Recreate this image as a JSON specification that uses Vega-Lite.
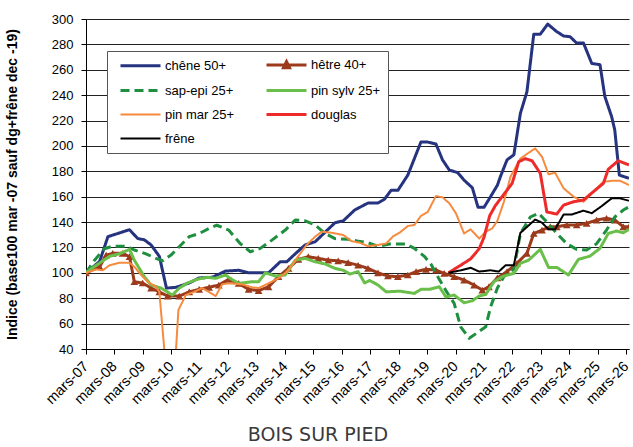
{
 "$schema": "https://vega.github.io/schema/vega-lite/v6.json",
 "autosize": "none",
 "width": 543, "height": 330,
 "padding": {"left": 86, "top": 19, "right": 4, "bottom": 98},
 "background": "white",
 "config": {"view": {"stroke": null}, "font": "Liberation Sans"},
 "title": {"text": "BOIS SUR PIED", "orient": "bottom", "anchor": "middle", "frame": "bounds", "font": "DejaVu Sans", "fontSize": 19, "fontWeight": "normal", "color": "#3a3a3a", "offset": 20},
 "data": {"values": [
  {"s":"chêne 50+","t":2007.0,"v":100},{"s":"chêne 50+","t":2007.48,"v":109},{"s":"chêne 50+","t":2007.77,"v":128.5},{"s":"chêne 50+","t":2008.53,"v":134},{"s":"chêne 50+","t":2008.82,"v":127},{"s":"chêne 50+","t":2009.05,"v":126},{"s":"chêne 50+","t":2009.29,"v":122},{"s":"chêne 50+","t":2009.58,"v":113},{"s":"chêne 50+","t":2009.83,"v":88},{"s":"chêne 50+","t":2010.16,"v":88.6},{"s":"chêne 50+","t":2010.63,"v":92},{"s":"chêne 50+","t":2010.98,"v":96},{"s":"chêne 50+","t":2011.44,"v":96.5},{"s":"chêne 50+","t":2011.91,"v":101.4},{"s":"chêne 50+","t":2012.37,"v":102},{"s":"chêne 50+","t":2012.72,"v":100},{"s":"chêne 50+","t":2013.42,"v":100},{"s":"chêne 50+","t":2013.83,"v":108.7},{"s":"chêne 50+","t":2014.06,"v":108.7},{"s":"chêne 50+","t":2014.36,"v":115},{"s":"chêne 50+","t":2014.71,"v":122},{"s":"chêne 50+","t":2015.06,"v":124.5},{"s":"chêne 50+","t":2015.41,"v":132},{"s":"chêne 50+","t":2015.76,"v":139.5},{"s":"chêne 50+","t":2016.05,"v":141},{"s":"chêne 50+","t":2016.45,"v":149.5},{"s":"chêne 50+","t":2016.92,"v":155},{"s":"chêne 50+","t":2017.27,"v":155},{"s":"chêne 50+","t":2017.5,"v":158},{"s":"chêne 50+","t":2017.73,"v":165},{"s":"chêne 50+","t":2017.97,"v":165},{"s":"chêne 50+","t":2018.32,"v":177},{"s":"chêne 50+","t":2018.55,"v":190},{"s":"chêne 50+","t":2018.78,"v":203},{"s":"chêne 50+","t":2019.02,"v":203},{"s":"chêne 50+","t":2019.31,"v":201.5},{"s":"chêne 50+","t":2019.54,"v":189},{"s":"chêne 50+","t":2019.78,"v":181},{"s":"chêne 50+","t":2020.07,"v":179},{"s":"chêne 50+","t":2020.3,"v":173},{"s":"chêne 50+","t":2020.59,"v":167},{"s":"chêne 50+","t":2020.79,"v":151.6},{"s":"chêne 50+","t":2021.0,"v":151.6},{"s":"chêne 50+","t":2021.23,"v":160},{"s":"chêne 50+","t":2021.47,"v":169},{"s":"chêne 50+","t":2021.58,"v":176},{"s":"chêne 50+","t":2021.81,"v":189},{"s":"chêne 50+","t":2022.05,"v":193},{"s":"chêne 50+","t":2022.28,"v":225.7},{"s":"chêne 50+","t":2022.51,"v":242.7},{"s":"chêne 50+","t":2022.75,"v":288},{"s":"chêne 50+","t":2022.98,"v":288},{"s":"chêne 50+","t":2023.24,"v":296},{"s":"chêne 50+","t":2023.56,"v":290},{"s":"chêne 50+","t":2023.8,"v":286.6},{"s":"chêne 50+","t":2024.03,"v":286},{"s":"chêne 50+","t":2024.26,"v":281},{"s":"chêne 50+","t":2024.5,"v":281},{"s":"chêne 50+","t":2024.79,"v":265},{"s":"chêne 50+","t":2025.08,"v":264},{"s":"chêne 50+","t":2025.25,"v":239},{"s":"chêne 50+","t":2025.49,"v":223},{"s":"chêne 50+","t":2025.6,"v":212.5},{"s":"chêne 50+","t":2025.76,"v":177},{"s":"chêne 50+","t":2026.1,"v":174.5},

  {"s":"hêtre 40+","t":2007.0,"v":100},{"s":"hêtre 40+","t":2007.48,"v":104.8},{"s":"hêtre 40+","t":2007.71,"v":114},{"s":"hêtre 40+","t":2007.94,"v":115.4},{"s":"hêtre 40+","t":2008.29,"v":115.4},{"s":"hêtre 40+","t":2008.53,"v":112.7},{"s":"hêtre 40+","t":2008.7,"v":93},{"s":"hêtre 40+","t":2008.99,"v":92},{"s":"hêtre 40+","t":2009.29,"v":88},{"s":"hêtre 40+","t":2009.58,"v":85},{"s":"hêtre 40+","t":2009.87,"v":81.7},{"s":"hêtre 40+","t":2010.28,"v":81.7},{"s":"hêtre 40+","t":2010.63,"v":85},{"s":"hêtre 40+","t":2010.98,"v":87},{"s":"hêtre 40+","t":2011.33,"v":88.6},{"s":"hêtre 40+","t":2011.67,"v":90.4},{"s":"hêtre 40+","t":2012.02,"v":94.8},{"s":"hêtre 40+","t":2012.37,"v":91.7},{"s":"hêtre 40+","t":2012.72,"v":87},{"s":"hêtre 40+","t":2013.07,"v":86},{"s":"hêtre 40+","t":2013.42,"v":89},{"s":"hêtre 40+","t":2013.77,"v":97},{"s":"hêtre 40+","t":2014.12,"v":103.5},{"s":"hêtre 40+","t":2014.47,"v":110.6},{"s":"hêtre 40+","t":2014.82,"v":112.7},{"s":"hêtre 40+","t":2015.17,"v":111.4},{"s":"hêtre 40+","t":2015.52,"v":110},{"s":"hêtre 40+","t":2015.87,"v":109.5},{"s":"hêtre 40+","t":2016.22,"v":108},{"s":"hêtre 40+","t":2016.57,"v":106},{"s":"hêtre 40+","t":2016.92,"v":103.5},{"s":"hêtre 40+","t":2017.27,"v":100},{"s":"hêtre 40+","t":2017.62,"v":97.5},{"s":"hêtre 40+","t":2017.97,"v":97},{"s":"hêtre 40+","t":2018.32,"v":98.3},{"s":"hêtre 40+","t":2018.61,"v":101},{"s":"hêtre 40+","t":2018.96,"v":102.8},{"s":"hêtre 40+","t":2019.31,"v":102.2},{"s":"hêtre 40+","t":2019.6,"v":99.6},{"s":"hêtre 40+","t":2019.95,"v":97},{"s":"hêtre 40+","t":2020.3,"v":94.3},{"s":"hêtre 40+","t":2020.65,"v":90.4},{"s":"hêtre 40+","t":2020.94,"v":86.4},{"s":"hêtre 40+","t":2021.17,"v":89},{"s":"hêtre 40+","t":2021.47,"v":96},{"s":"hêtre 40+","t":2021.81,"v":101},{"s":"hêtre 40+","t":2022.16,"v":107.5},{"s":"hêtre 40+","t":2022.51,"v":115.4},{"s":"hêtre 40+","t":2022.75,"v":131},{"s":"hêtre 40+","t":2023.04,"v":133.7},{"s":"hêtre 40+","t":2023.33,"v":136.3},{"s":"hêtre 40+","t":2023.56,"v":136.3},{"s":"hêtre 40+","t":2023.91,"v":137.7},{"s":"hêtre 40+","t":2024.26,"v":137.7},{"s":"hêtre 40+","t":2024.61,"v":139},{"s":"hêtre 40+","t":2024.96,"v":141.6},{"s":"hêtre 40+","t":2025.31,"v":143},{"s":"hêtre 40+","t":2025.6,"v":141.6},{"s":"hêtre 40+","t":2025.9,"v":136.3},{"s":"hêtre 40+","t":2026.1,"v":136.3},

  {"s":"sap-epi 25+","t":2007.0,"v":100},{"s":"sap-epi 25+","t":2007.3,"v":110},{"s":"sap-epi 25+","t":2007.65,"v":119},{"s":"sap-epi 25+","t":2007.94,"v":121},{"s":"sap-epi 25+","t":2008.41,"v":121},{"s":"sap-epi 25+","t":2008.7,"v":118},{"s":"sap-epi 25+","t":2009.11,"v":115},{"s":"sap-epi 25+","t":2009.46,"v":111.4},{"s":"sap-epi 25+","t":2009.69,"v":109.5},{"s":"sap-epi 25+","t":2009.99,"v":114},{"s":"sap-epi 25+","t":2010.28,"v":120.6},{"s":"sap-epi 25+","t":2010.63,"v":128.5},{"s":"sap-epi 25+","t":2010.98,"v":131},{"s":"sap-epi 25+","t":2011.33,"v":135},{"s":"sap-epi 25+","t":2011.6,"v":137.5},{"s":"sap-epi 25+","t":2012.02,"v":133.7},{"s":"sap-epi 25+","t":2012.43,"v":123},{"s":"sap-epi 25+","t":2012.78,"v":116.6},{"s":"sap-epi 25+","t":2013.13,"v":119.3},{"s":"sap-epi 25+","t":2013.54,"v":125.8},{"s":"sap-epi 25+","t":2014.01,"v":133.7},{"s":"sap-epi 25+","t":2014.36,"v":141.6},{"s":"sap-epi 25+","t":2014.71,"v":141},{"s":"sap-epi 25+","t":2015.06,"v":137.7},{"s":"sap-epi 25+","t":2015.41,"v":131},{"s":"sap-epi 25+","t":2015.76,"v":127},{"s":"sap-epi 25+","t":2016.22,"v":126.4},{"s":"sap-epi 25+","t":2016.57,"v":125},{"s":"sap-epi 25+","t":2016.92,"v":123.7},{"s":"sap-epi 25+","t":2017.27,"v":121},{"s":"sap-epi 25+","t":2017.68,"v":122.7},{"s":"sap-epi 25+","t":2018.26,"v":122.7},{"s":"sap-epi 25+","t":2018.55,"v":119.3},{"s":"sap-epi 25+","t":2018.9,"v":113},{"s":"sap-epi 25+","t":2019.13,"v":107},{"s":"sap-epi 25+","t":2019.4,"v":96},{"s":"sap-epi 25+","t":2019.66,"v":86},{"s":"sap-epi 25+","t":2019.95,"v":76},{"s":"sap-epi 25+","t":2020.18,"v":57.5},{"s":"sap-epi 25+","t":2020.48,"v":48.4},{"s":"sap-epi 25+","t":2021.06,"v":57.5},{"s":"sap-epi 25+","t":2021.23,"v":73},{"s":"sap-epi 25+","t":2021.47,"v":88},{"s":"sap-epi 25+","t":2021.7,"v":97},{"s":"sap-epi 25+","t":2022.05,"v":103},{"s":"sap-epi 25+","t":2022.28,"v":131},{"s":"sap-epi 25+","t":2022.63,"v":144},{"s":"sap-epi 25+","t":2022.92,"v":147},{"s":"sap-epi 25+","t":2023.21,"v":140},{"s":"sap-epi 25+","t":2023.56,"v":131},{"s":"sap-epi 25+","t":2023.91,"v":123},{"s":"sap-epi 25+","t":2024.26,"v":118.5},{"s":"sap-epi 25+","t":2024.61,"v":118},{"s":"sap-epi 25+","t":2024.96,"v":123},{"s":"sap-epi 25+","t":2025.31,"v":133.7},{"s":"sap-epi 25+","t":2025.6,"v":144},{"s":"sap-epi 25+","t":2025.9,"v":149.5},{"s":"sap-epi 25+","t":2026.1,"v":152},

  {"s":"pin sylv 25+","t":2007.0,"v":100},{"s":"pin sylv 25+","t":2007.36,"v":106},{"s":"pin sylv 25+","t":2007.83,"v":113},{"s":"pin sylv 25+","t":2008.18,"v":115},{"s":"pin sylv 25+","t":2008.53,"v":118.5},{"s":"pin sylv 25+","t":2008.7,"v":110},{"s":"pin sylv 25+","t":2009.05,"v":97},{"s":"pin sylv 25+","t":2009.29,"v":90.4},{"s":"pin sylv 25+","t":2009.64,"v":88},{"s":"pin sylv 25+","t":2010.04,"v":82.5},{"s":"pin sylv 25+","t":2010.28,"v":88},{"s":"pin sylv 25+","t":2010.57,"v":92},{"s":"pin sylv 25+","t":2010.92,"v":95},{"s":"pin sylv 25+","t":2011.27,"v":96.5},{"s":"pin sylv 25+","t":2011.56,"v":95.7},{"s":"pin sylv 25+","t":2011.91,"v":98.3},{"s":"pin sylv 25+","t":2012.05,"v":96},{"s":"pin sylv 25+","t":2012.37,"v":91.7},{"s":"pin sylv 25+","t":2012.84,"v":93},{"s":"pin sylv 25+","t":2013.07,"v":93},{"s":"pin sylv 25+","t":2013.31,"v":100},{"s":"pin sylv 25+","t":2013.66,"v":97.5},{"s":"pin sylv 25+","t":2014.01,"v":98.3},{"s":"pin sylv 25+","t":2014.36,"v":110},{"s":"pin sylv 25+","t":2014.71,"v":111.4},{"s":"pin sylv 25+","t":2015.06,"v":108.7},{"s":"pin sylv 25+","t":2015.41,"v":107},{"s":"pin sylv 25+","t":2015.76,"v":103.5},{"s":"pin sylv 25+","t":2016.05,"v":102},{"s":"pin sylv 25+","t":2016.28,"v":99},{"s":"pin sylv 25+","t":2016.57,"v":101},{"s":"pin sylv 25+","t":2016.8,"v":92},{"s":"pin sylv 25+","t":2016.98,"v":94},{"s":"pin sylv 25+","t":2017.27,"v":90.4},{"s":"pin sylv 25+","t":2017.56,"v":85},{"s":"pin sylv 25+","t":2018.03,"v":85.6},{"s":"pin sylv 25+","t":2018.55,"v":83.8},{"s":"pin sylv 25+","t":2018.78,"v":87},{"s":"pin sylv 25+","t":2019.08,"v":87},{"s":"pin sylv 25+","t":2019.43,"v":89},{"s":"pin sylv 25+","t":2019.66,"v":81},{"s":"pin sylv 25+","t":2019.95,"v":82.5},{"s":"pin sylv 25+","t":2020.3,"v":76.4},{"s":"pin sylv 25+","t":2020.59,"v":78},{"s":"pin sylv 25+","t":2020.83,"v":81.7},{"s":"pin sylv 25+","t":2021.06,"v":83},{"s":"pin sylv 25+","t":2021.35,"v":93},{"s":"pin sylv 25+","t":2021.64,"v":97},{"s":"pin sylv 25+","t":2022.05,"v":99.6},{"s":"pin sylv 25+","t":2022.28,"v":107.5},{"s":"pin sylv 25+","t":2022.57,"v":110},{"s":"pin sylv 25+","t":2022.98,"v":118.5},{"s":"pin sylv 25+","t":2023.27,"v":104.3},{"s":"pin sylv 25+","t":2023.56,"v":104.3},{"s":"pin sylv 25+","t":2023.97,"v":98.3},{"s":"pin sylv 25+","t":2024.32,"v":110.6},{"s":"pin sylv 25+","t":2024.73,"v":113.2},{"s":"pin sylv 25+","t":2025.08,"v":119.3},{"s":"pin sylv 25+","t":2025.37,"v":131},{"s":"pin sylv 25+","t":2025.66,"v":133},{"s":"pin sylv 25+","t":2025.9,"v":131.6},{"s":"pin sylv 25+","t":2026.1,"v":134.3},

  {"s":"pin mar 25+","t":2007.0,"v":100},{"s":"pin mar 25+","t":2007.36,"v":102.7},{"s":"pin mar 25+","t":2007.59,"v":102},{"s":"pin mar 25+","t":2007.83,"v":106},{"s":"pin mar 25+","t":2008.18,"v":108},{"s":"pin mar 25+","t":2008.53,"v":108},{"s":"pin mar 25+","t":2008.7,"v":104.8},{"s":"pin mar 25+","t":2008.94,"v":98.3},{"s":"pin mar 25+","t":2009.17,"v":93},{"s":"pin mar 25+","t":2009.46,"v":89},{"s":"pin mar 25+","t":2009.58,"v":85},{"s":"pin mar 25+","t":2009.85,"v":15},{"s":"pin mar 25+","t":2010.1,"v":15},{"s":"pin mar 25+","t":2010.25,"v":70.7},{"s":"pin mar 25+","t":2010.51,"v":82.5},{"s":"pin mar 25+","t":2010.8,"v":85},{"s":"pin mar 25+","t":2011.09,"v":88},{"s":"pin mar 25+","t":2011.56,"v":81.7},{"s":"pin mar 25+","t":2011.79,"v":91},{"s":"pin mar 25+","t":2012.02,"v":91.7},{"s":"pin mar 25+","t":2012.49,"v":91},{"s":"pin mar 25+","t":2012.84,"v":88.6},{"s":"pin mar 25+","t":2013.07,"v":88},{"s":"pin mar 25+","t":2013.42,"v":91.7},{"s":"pin mar 25+","t":2013.83,"v":96.5},{"s":"pin mar 25+","t":2014.12,"v":102},{"s":"pin mar 25+","t":2014.41,"v":111.4},{"s":"pin mar 25+","t":2014.76,"v":122},{"s":"pin mar 25+","t":2015.06,"v":128.5},{"s":"pin mar 25+","t":2015.29,"v":132.4},{"s":"pin mar 25+","t":2015.64,"v":131.6},{"s":"pin mar 25+","t":2016.05,"v":129.8},{"s":"pin mar 25+","t":2016.34,"v":125},{"s":"pin mar 25+","t":2016.63,"v":123.7},{"s":"pin mar 25+","t":2016.92,"v":121},{"s":"pin mar 25+","t":2017.27,"v":122},{"s":"pin mar 25+","t":2017.56,"v":123.2},{"s":"pin mar 25+","t":2017.79,"v":128.5},{"s":"pin mar 25+","t":2018.03,"v":131.6},{"s":"pin mar 25+","t":2018.32,"v":136.9},{"s":"pin mar 25+","t":2018.55,"v":137.7},{"s":"pin mar 25+","t":2018.78,"v":144.8},{"s":"pin mar 25+","t":2019.02,"v":148},{"s":"pin mar 25+","t":2019.31,"v":160.5},{"s":"pin mar 25+","t":2019.54,"v":159.5},{"s":"pin mar 25+","t":2019.78,"v":154.8},{"s":"pin mar 25+","t":2020.01,"v":147},{"s":"pin mar 25+","t":2020.3,"v":131},{"s":"pin mar 25+","t":2020.53,"v":134.3},{"s":"pin mar 25+","t":2020.83,"v":127},{"s":"pin mar 25+","t":2021.06,"v":132.4},{"s":"pin mar 25+","t":2021.29,"v":135},{"s":"pin mar 25+","t":2021.47,"v":141},{"s":"pin mar 25+","t":2021.7,"v":156},{"s":"pin mar 25+","t":2021.93,"v":175.7},{"s":"pin mar 25+","t":2022.28,"v":190},{"s":"pin mar 25+","t":2022.57,"v":194.6},{"s":"pin mar 25+","t":2022.8,"v":198},{"s":"pin mar 25+","t":2023.04,"v":191.5},{"s":"pin mar 25+","t":2023.27,"v":177.6},{"s":"pin mar 25+","t":2023.5,"v":178.9},{"s":"pin mar 25+","t":2023.8,"v":166.6},{"s":"pin mar 25+","t":2024.15,"v":160},{"s":"pin mar 25+","t":2024.5,"v":156},{"s":"pin mar 25+","t":2024.85,"v":164},{"s":"pin mar 25+","t":2025.2,"v":171.8},{"s":"pin mar 25+","t":2025.55,"v":172.6},{"s":"pin mar 25+","t":2025.78,"v":172.6},{"s":"pin mar 25+","t":2026.1,"v":169.2},

  {"s":"douglas","t":2019.75,"v":100},{"s":"douglas","t":2020.18,"v":106},{"s":"douglas","t":2020.53,"v":111},{"s":"douglas","t":2020.83,"v":119},{"s":"douglas","t":2021.0,"v":128},{"s":"douglas","t":2021.2,"v":145},{"s":"douglas","t":2021.4,"v":153},{"s":"douglas","t":2021.99,"v":170.5},{"s":"douglas","t":2022.22,"v":187.5},{"s":"douglas","t":2022.45,"v":190},{"s":"douglas","t":2022.69,"v":188.3},{"s":"douglas","t":2022.98,"v":178.4},{"s":"douglas","t":2023.21,"v":148},{"s":"douglas","t":2023.56,"v":146.3},{"s":"douglas","t":2023.8,"v":153.4},{"s":"douglas","t":2024.15,"v":156},{"s":"douglas","t":2024.5,"v":157.4},{"s":"douglas","t":2024.85,"v":164},{"s":"douglas","t":2025.2,"v":170.5},{"s":"douglas","t":2025.37,"v":181.6},{"s":"douglas","t":2025.72,"v":188.3},{"s":"douglas","t":2026.1,"v":185},

  {"s":"frêne","t":2019.75,"v":100},{"s":"frêne","t":2020.18,"v":102},{"s":"frêne","t":2020.53,"v":104},{"s":"frêne","t":2020.83,"v":101},{"s":"frêne","t":2021.23,"v":102},{"s":"frêne","t":2021.52,"v":101},{"s":"frêne","t":2021.76,"v":106},{"s":"frêne","t":2022.05,"v":106},{"s":"frêne","t":2022.28,"v":131.5},{"s":"frêne","t":2022.8,"v":142},{"s":"frêne","t":2023.04,"v":139.5},{"s":"frêne","t":2023.27,"v":134.3},{"s":"frêne","t":2023.5,"v":134.3},{"s":"frêne","t":2023.8,"v":146},{"s":"frêne","t":2024.09,"v":146},{"s":"frêne","t":2024.5,"v":149},{"s":"frêne","t":2024.79,"v":147},{"s":"frêne","t":2025.14,"v":152.6},{"s":"frêne","t":2025.49,"v":158.7},{"s":"frêne","t":2025.78,"v":158.7},{"s":"frêne","t":2026.1,"v":156.8}
 ]},
 "encoding": {
  "x": {"field": "t", "type": "quantitative", "scale": {"domain": [2007, 2026.1], "nice": false, "zero": false},
   "axis": {"values": [2007,2008,2009,2010,2011,2012,2013,2014,2015,2016,2017,2018,2019,2020,2021,2022,2023,2024,2025,2026],
    "labelExpr": "'mars-' + slice(toString(datum.value), 2)", "labelAngle": -45, "labelAlign": "right", "labelBaseline": "middle", "labelOverlap": false, "labelBound": false, "grid": false, "title": null,
    "domainColor": "black", "tickColor": "black", "tickSize": 5, "labelFontSize": 14.5, "labelColor": "black", "labelFont": "Liberation Sans", "labelPadding": 10, "labelDx": -4}},
  "y": {"field": "v", "type": "quantitative", "scale": {"domain": [40, 300], "nice": false, "zero": false},
   "axis": {"values": [40,60,80,100,120,140,160,180,200,220,240,260,280,300], "grid": true, "gridColor": "#222222", "gridWidth": 1,
    "domainColor": "black", "tickColor": "black", "tickSize": 5, "labelFontSize": 13, "labelColor": "black", "labelFont": "Liberation Sans", "labelPadding": 8,
    "title": "Indice (base100 mar -07 sauf dg+frêne dec -19)", "titleFont": "Liberation Sans", "titleFontSize": 14, "titleFontWeight": "bold", "titleColor": "black",
    "titleX": -74, "titleY": 165, "titleAngle": 270, "titleAlign": "center", "titleBaseline": "middle"}}
 },
 "layer": [
  {"transform": [{"filter": "datum.s === 'hêtre 40+'"}],
   "mark": {"type": "point", "shape": "triangle-up", "filled": true, "size": 60, "color": "#9c3a1c", "opacity": 1, "clip": true}},
  {"mark": {"type": "line", "clip": true, "strokeJoin": "round"},
   "encoding": {
    "color": {"field": "s", "type": "nominal",
     "scale": {"domain": ["chêne 50+","hêtre 40+","sap-epi 25+","pin sylv 25+","pin mar 25+","douglas","frêne"],
               "range": ["#26337f","#9c3a1c","#1e8f3e","#6abf4b","#f68b3f","#ee2b2b","#000000"]},
     "legend": {"title": null, "orient": "none", "legendX": 21, "legendY": 32, "columns": 2, "direction": "horizontal",
      "fillColor": "white", "strokeColor": "#555555", "padding": 7, "columnPadding": 25, "rowPadding": 10,
      "labelFontSize": 13, "labelColor": "black", "labelFont": "Liberation Sans", "labelOffset": 38,
      "symbolType": "M0,0H16", "symbolSize": 25,
      "encode": {"symbols": {"update": {
        "shape": {"signal": "datum.label === 'hêtre 40+' ? 'M0,0H16M6.8,1.1L8,-1.3L9.2,1.1Z' : 'M0,0H16'"},
        "fill": {"signal": "datum.label === 'hêtre 40+' ? '#9c3a1c' : 'transparent'"},
        "strokeWidth": {"signal": "(datum.label === 'pin mar 25+' || datum.label === 'frêne') ? 2 : 3"}}}}}},
    "strokeDash": {"field": "s", "type": "nominal",
     "scale": {"domain": ["chêne 50+","hêtre 40+","sap-epi 25+","pin sylv 25+","pin mar 25+","douglas","frêne"],
               "range": [[1,0],[1,0],[9,5],[1,0],[1,0],[1,0],[1,0]]}},
    "strokeWidth": {"condition": {"test": "datum.s === 'pin mar 25+' || datum.s === 'frêne'", "value": 2}, "value": 3}
   }}
 ]
}
